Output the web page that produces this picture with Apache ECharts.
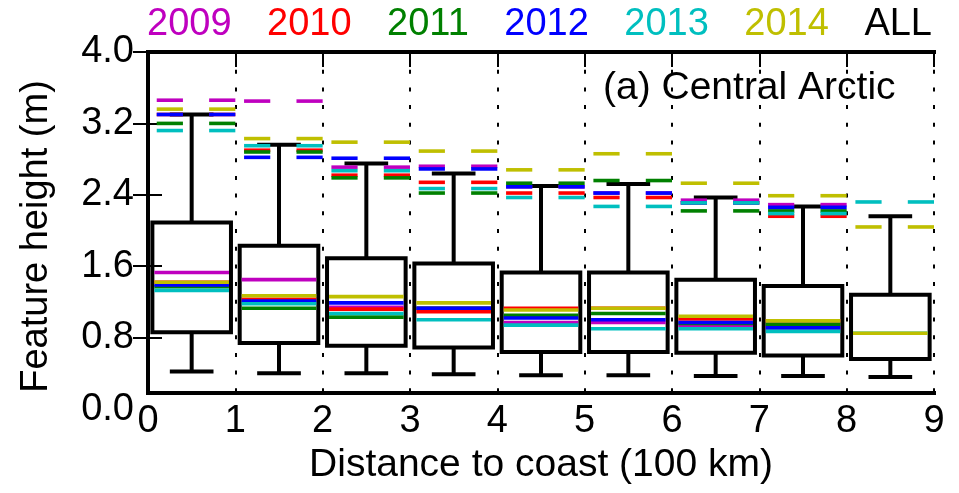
<!DOCTYPE html>
<html>
<head>
<meta charset="utf-8">
<script src="https://cdn.jsdelivr.net/npm/echarts@6/dist/echarts.min.js"></script>
<style>
  html, body { margin: 0; padding: 0; background: #fff; }
  #chart { width: 959px; height: 493px; }
</style>
</head>
<body>
<div id="chart"></div>
<script>
// Distance-to-coast bins (start of each 100 km bin)
const binStarts = [0, 1, 2, 3, 4, 5, 6, 7, 8];

// All years combined: whisker low, first quartile, third quartile, whisker high (m)
const allLow  = [0.42, 0.40, 0.40, 0.39, 0.38, 0.38, 0.37, 0.37, 0.36];
const allQ1   = [0.86, 0.74, 0.71, 0.69, 0.64, 0.64, 0.63, 0.60, 0.56];
const allQ3   = [2.09, 1.83, 1.69, 1.63, 1.53, 1.53, 1.45, 1.38, 1.28];
const allHigh = [3.30, 2.96, 2.75, 2.64, 2.50, 2.52, 2.37, 2.27, 2.16];

// Per-year medians (m)
const median2009 = [1.53, 1.45, 1.14, 1.13, 0.97, 0.97, 0.94, 0.91, null];
const median2010 = [1.42, 1.23, 1.12, 1.09, 1.13, 1.13, 1.01, 0.99, null];
const median2011 = [1.37, 1.13, 1.03, 1.13, 1.05, 1.07, 0.96, 0.95, null];
const median2012 = [1.39, 1.21, 1.19, 1.13, 1.02, 1.00, 0.97, 0.91, null];
const median2013 = [1.33, 1.18, 1.07, 1.00, 0.94, 0.90, 0.90, 0.87, 0.85];
const median2014 = [1.42, 1.27, 1.26, 1.19, 1.11, 1.13, 1.04, 0.99, 0.85];

// Per-year upper whisker (m), drawn as dashed marks
const upper2009 = [3.46, 3.45, 2.71, 2.72, 2.49, 2.42, 2.34, 2.29, null];
const upper2010 = [3.30, 2.90, 2.62, 2.54, 2.42, 2.37, 2.31, 2.16, null];
const upper2011 = [3.20, 2.88, 2.59, 2.42, 2.53, 2.56, 2.22, 2.22, null];
const upper2012 = [3.30, 2.82, 2.81, 2.69, 2.49, 2.42, 2.31, 2.26, null];
const upper2013 = [3.12, 2.95, 2.67, 2.47, 2.37, 2.27, 2.31, 2.19, 2.32];
const upper2014 = [3.36, 3.03, 2.99, 2.89, 2.68, 2.86, 2.53, 2.39, 2.04];

const yearNames = ['2009', '2010', '2011', '2012', '2013', '2014'];
const yearColors = ['#bf00bf', '#ff0000', '#008000', '#0000ff', '#00bfbf', '#bfbf00'];
const yearMedians = [median2009, median2010, median2011, median2012, median2013, median2014];
const yearUppers = [upper2009, upper2010, upper2011, upper2012, upper2013, upper2014];

// Axis ticks
const yTicks = [0.8, 1.6, 2.4, 3.2, 4.0];
const yMin = 0.18, yMax = 4.0;

const FONT = 'Liberation Sans, Arial, Helvetica, sans-serif';
const FS = 38;

function boxItem(params, api) {
  const x0 = api.value(0);
  const lo = api.value(1), q1 = api.value(2), q3 = api.value(3), hi = api.value(4);
  const c = api.coord;
  const cx = c([x0 + 0.5, 0])[0];
  const bl = c([x0 + 0.05, q3]);
  const br = c([x0 + 0.95, q1]);
  const capL = c([x0 + 0.25, 0])[0];
  const capR = c([x0 + 0.75, 0])[0];
  const yLo = c([0, lo])[1], yQ1 = c([0, q1])[1], yQ3 = c([0, q3])[1], yHi = c([0, hi])[1];
  const st = { stroke: '#000', lineWidth: 4, fill: null };
  return {
    type: 'group',
    children: [
      { type: 'line', shape: { x1: cx, y1: yQ3, x2: cx, y2: yHi }, style: st },
      { type: 'line', shape: { x1: cx, y1: yQ1, x2: cx, y2: yLo }, style: st },
      { type: 'line', shape: { x1: capL, y1: yHi, x2: capR, y2: yHi }, style: st },
      { type: 'line', shape: { x1: capL, y1: yLo, x2: capR, y2: yLo }, style: st },
      { type: 'rect', shape: { x: bl[0], y: bl[1], width: br[0] - bl[0], height: br[1] - bl[1] },
        style: { stroke: '#000', lineWidth: 4, fill: null } }
    ]
  };
}

function yearItemFactory(color) {
  return function (params, api) {
    const x0 = api.value(0);
    const med = api.value(1), top = api.value(2);
    if (isNaN(med) && isNaN(top)) return null;
    const c = api.coord;
    const children = [];
    const st = { stroke: color, lineWidth: 3.6, fill: null };
    if (!isNaN(med)) {
      const y = c([0, med])[1];
      const xa = c([x0 + 0.05, 0])[0] + 2, xb = c([x0 + 0.95, 0])[0] - 2;
      children.push({ type: 'line', shape: { x1: xa, y1: y, x2: xb, y2: y }, style: st });
    }
    if (!isNaN(top)) {
      const y = c([0, top])[1];
      [[0.1, 0.4], [0.7, 1.0]].forEach(function (seg) {
        const xa = c([x0 + seg[0], 0])[0], xb = c([x0 + seg[1], 0])[0];
        children.push({ type: 'line', shape: { x1: xa, y1: y, x2: xb, y2: y }, style: st });
      });
    }
    return { type: 'group', children: children };
  };
}

const series = [{
  name: 'ALL',
  type: 'custom',
  renderItem: boxItem,
  encode: { x: 0, y: [1, 2, 3, 4] },
  data: binStarts.map(function (b, i) { return [b, allLow[i], allQ1[i], allQ3[i], allHigh[i]]; }),
  z: 2
}];
yearNames.forEach(function (name, k) {
  series.push({
    name: name,
    type: 'custom',
    renderItem: yearItemFactory(yearColors[k]),
    encode: { x: 0, y: [1, 2] },
    data: binStarts.map(function (b, i) {
      const m = yearMedians[k][i], u = yearUppers[k][i];
      return [b, m == null ? '-' : m, u == null ? '-' : u];
    }),
    z: 3 + k
  });
});

const legendData = yearNames.map(function (n, k) {
  return { name: n, textStyle: { color: yearColors[k] } };
});
legendData.push({ name: 'ALL', textStyle: { color: '#000' } });

const axisLineStyle = { color: '#000', width: 4, cap: 'square' };

const chart = echarts.init(document.getElementById('chart'), null, { renderer: 'canvas' });
chart.setOption({
  animation: false,
  backgroundColor: '#fff',
  textStyle: { fontFamily: FONT },
  grid: { left: 148, right: 25, top: 52, bottom: 100, containLabel: false },
  title: {
    text: '(a) Central Arctic',
    left: 598, top: 64,
    textStyle: { fontFamily: FONT, fontSize: 39, fontWeight: 'normal', color: '#000' }
  },
  legend: {
    data: legendData,
    left: 137, top: 1,
    itemWidth: 0, itemHeight: 0, itemGap: 30.5,
    selectedMode: false,
    icon: 'rect',
    itemStyle: { opacity: 0 },
    textStyle: { fontFamily: FONT, fontSize: FS }
  },
  xAxis: [{
    type: 'value', position: 'bottom', min: 0, max: 9, interval: 1,
    name: 'Distance to coast (100 km)', nameLocation: 'middle', nameGap: 52,
    nameTextStyle: { fontFamily: FONT, fontSize: 39, color: '#000' },
    axisLine: { show: true, lineStyle: axisLineStyle },
    axisTick: { show: false },
    axisLabel: { fontFamily: FONT, fontSize: FS, color: '#000', margin: 10 },
    splitLine: { show: true, lineStyle: { color: '#000', width: 2, type: [4, 13.7] } }
  }, {
    type: 'value', position: 'top', min: 0, max: 9, interval: 1,
    axisLine: { show: true, lineStyle: axisLineStyle },
    axisTick: { show: true, inside: true, length: 15, lineStyle: { color: '#000', width: 2 } },
    axisLabel: { show: false },
    splitLine: { show: false }
  }],
  yAxis: [{
    type: 'value', position: 'left', min: yMin, max: yMax,
    name: 'Feature height (m)', nameLocation: 'middle', nameGap: 92, nameRotate: 90,
    nameTextStyle: { fontFamily: FONT, fontSize: FS, color: '#000', padding: [0, 28, 0, 0] },
    axisLine: { show: true, lineStyle: axisLineStyle },
    axisTick: { show: true, inside: true, length: 14, customValues: yTicks, lineStyle: { color: '#000', width: 2 } },
    axisLabel: { fontFamily: FONT, fontSize: FS, color: '#000', margin: 14, customValues: yTicks,
      formatter: function (v) { return v.toFixed(1); } },
    splitLine: { show: false }
  }, {
    type: 'value', position: 'right', min: yMin, max: yMax,
    axisLine: { show: true, lineStyle: axisLineStyle },
    axisTick: { show: true, inside: true, length: 15, customValues: yTicks, lineStyle: { color: '#000', width: 2 } },
    axisLabel: { show: false },
    splitLine: { show: false }
  }],
  series: series
});

// The 0.0 label sits just below the frame, at the scale's position for zero
const zeroY = chart.convertToPixel({ yAxisIndex: 0 }, 0);
chart.setOption({
  graphic: [{
    type: 'text', x: 134, y: zeroY, z: 10,
    style: { text: (0).toFixed(1), font: FS + 'px ' + FONT, fill: '#000', align: 'right', verticalAlign: 'middle' }
  }]
});
</script>
</body>
</html>
